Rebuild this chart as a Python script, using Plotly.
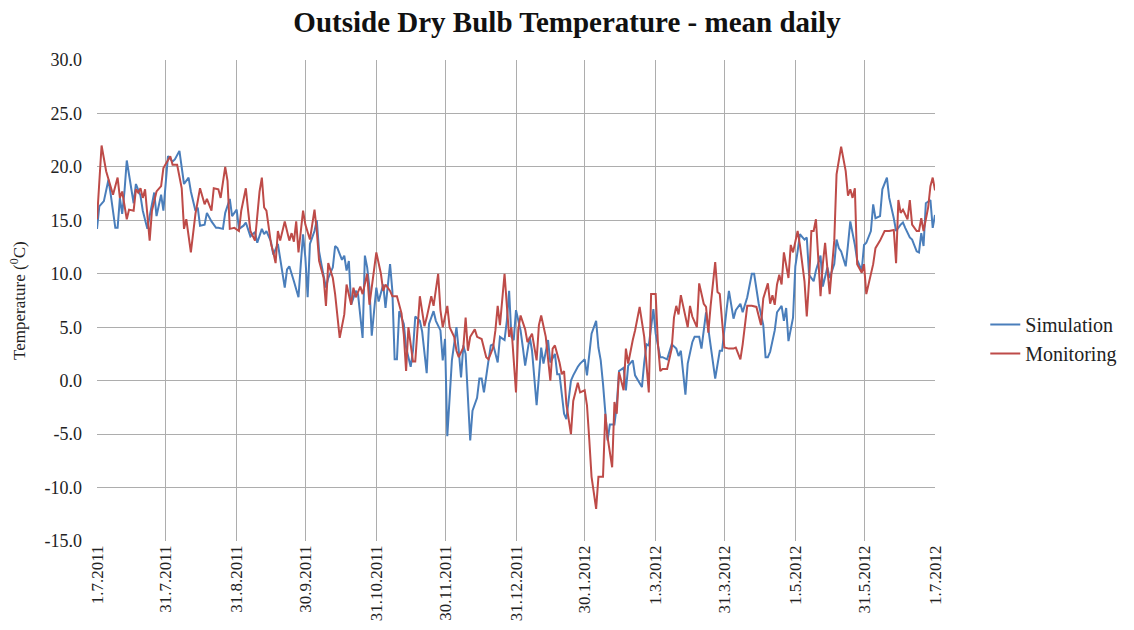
import plotly.graph_objects as go
import pandas as pd

### Data (day offsets from 1.7.2011, daily mean temperatures) ###
start = pd.Timestamp("2011-07-01")

sim_days = [0, 1, 3, 5, 6, 8, 9, 10, 11, 12, 13, 15, 16, 17, 19, 20, 22, 23, 25, 26, 28, 29, 31, 33, 34, 36, 38, 40, 41, 43,
            44, 45, 47, 48, 50, 52, 53, 55, 56, 58, 59, 61, 62, 64, 65, 67, 69, 70, 72, 73, 74, 76, 77, 79, 81, 82, 83, 84, 86, 88,
            89, 90, 91, 92, 93, 95, 96, 97, 98, 100, 101, 103, 104, 105, 107, 108, 109, 110, 111, 113, 114, 116, 117, 118, 119, 120, 122, 123, 125, 126,
            128, 129, 130, 131, 132, 134, 135, 137, 138, 139, 141, 142, 144, 145, 147, 148, 150, 151, 152, 153, 155, 157, 158, 159, 160, 161, 163, 164, 166, 167,
            168, 169, 171, 172, 173, 175, 176, 178, 179, 180, 181, 182, 183, 185, 186, 187, 189, 190, 192, 194, 195, 197, 198, 200, 201, 202, 204, 205, 207, 208,
            210, 211, 213, 214, 216, 218, 219, 220, 221, 222, 223, 224, 226, 227, 228, 230, 231, 232, 234, 235, 238, 239, 240, 241, 243, 244, 246, 247, 249, 251,
            253, 254, 255, 257, 258, 260, 261, 263, 264, 266, 267, 269, 270, 272, 273, 275, 276, 278, 279, 281, 282, 284, 286, 287, 289, 291, 292, 293, 294, 296,
            297, 299, 300, 301, 302, 304, 305, 306, 307, 309, 310, 311, 313, 314, 316, 317, 319, 320, 322, 323, 324, 325, 327, 328, 329, 331, 332, 334, 335, 336,
            338, 339, 340, 342, 343, 345, 346, 348, 349, 351, 352, 353, 355, 356, 358, 359, 360, 361, 362, 364, 365, 366]
sim_temp = [14.2, 16.3, 16.8, 18.8, 17.4, 14.3, 14.3, 17.1, 15.6, 17.7, 20.6, 17.7, 16.6, 18.4, 17.3, 15.9, 14.2, 15.4, 17.6, 15.4, 17.4, 15.9, 21.0, 20.5, 20.7, 21.5, 18.4, 19.0, 17.7, 15.9,
            16.2, 14.5, 14.6, 15.7, 14.9, 14.3, 14.3, 14.2, 15.7, 17.0, 15.4, 16.0, 14.2, 14.5, 14.8, 13.5, 13.9, 12.9, 14.2, 13.7, 14.0, 13.0, 11.8, 12.8, 10.1, 8.7, 10.4, 10.7, 9.3, 7.8,
            10.9, 13.7, 11.5, 7.8, 12.8, 14.0, 15.0, 12.1, 10.9, 8.7, 9.6, 10.6, 12.6, 12.4, 11.3, 11.7, 10.3, 11.2, 7.1, 8.4, 8.1, 4.0, 11.7, 10.6, 8.7, 4.2, 8.7, 7.4, 9.0, 6.8,
            10.9, 8.4, 2.0, 2.0, 6.5, 5.3, 3.1, 1.3, 2.8, 6.0, 5.6, 4.6, 0.7, 5.3, 6.5, 5.6, 4.7, 1.9, 3.9, -5.2, 1.9, 5.0, 2.8, 0.3, 3.3, 2.5, -5.6, -2.8, -1.6, 0.2,
            0.2, -1.1, 1.9, 3.3, 3.4, 1.7, 4.1, 3.8, 5.6, 8.4, 4.1, 3.8, 6.6, 4.7, 3.1, 1.4, 4.1, 2.8, -2.3, 3.1, 1.6, 3.8, 1.7, 2.5, 0.6, 0.6, -3.1, -3.6, 0.0, 0.5,
            1.3, 1.6, 2.0, 0.5, 4.4, 5.6, 3.1, 1.9, -0.3, -3.1, -5.6, -4.1, -4.1, -2.3, 0.9, 1.2, -0.9, 1.4, 1.9, 0.5, -0.6, 1.7, 3.4, 3.3, 6.7, 4.4, 2.2, 2.2, 2.0, 3.4,
            3.0, 2.3, 2.8, -1.3, 1.6, 3.6, 4.1, 4.1, 3.0, 6.4, 4.8, 1.9, 0.2, 2.8, 2.8, 6.7, 8.4, 5.8, 6.6, 7.2, 6.4, 7.8, 10.0, 10.0, 7.2, 5.2, 2.2, 2.2, 2.7, 4.7,
            6.4, 7.0, 5.6, 6.8, 3.7, 5.9, 10.7, 12.1, 13.7, 13.2, 13.4, 9.9, 9.3, 10.3, 11.7, 8.8, 10.6, 9.6, 10.9, 13.2, 12.4, 12.1, 10.7, 12.7, 14.9, 12.7, 11.3, 10.3, 12.7, 12.9,
            14.0, 16.5, 15.2, 15.4, 17.9, 19.0, 17.1, 15.2, 14.0, 14.6, 14.8, 14.3, 13.4, 13.2, 12.1, 12.0, 13.8, 12.6, 16.6, 16.9, 14.3, 15.5]

mon_days = [0, 2, 4, 6, 7, 9, 10, 11, 13, 14, 16, 17, 18, 19, 20, 21, 23, 24, 26, 28, 29, 32, 33, 35, 37, 38, 39, 41, 43, 45,
            47, 48, 50, 51, 53, 54, 56, 57, 58, 60, 62, 63, 65, 66, 67, 69, 71, 72, 73, 74, 76, 77, 78, 79, 80, 82, 84, 85, 86, 87,
            88, 90, 91, 93, 95, 96, 97, 99, 100, 101, 103, 104, 106, 108, 109, 111, 112, 113, 115, 116, 118, 119, 121, 122, 124, 125, 126, 128, 129, 131,
            133, 134, 135, 136, 138, 139, 141, 143, 144, 146, 147, 149, 150, 151, 153, 154, 156, 157, 158, 160, 161, 162, 163, 165, 166, 168, 170, 171, 173, 174,
            175, 176, 178, 179, 180, 181, 183, 184, 185, 187, 188, 190, 192, 193, 194, 196, 198, 199, 200, 202, 203, 204, 205, 207, 208, 210, 211, 213, 214, 215,
            216, 218, 219, 221, 222, 223, 225, 226, 227, 228, 230, 231, 232, 234, 235, 237, 239, 241, 242, 244, 245, 246, 247, 249, 251, 252, 253, 254, 255, 256,
            258, 259, 260, 262, 263, 265, 266, 267, 268, 270, 271, 272, 274, 276, 278, 279, 281, 282, 284, 286, 288, 290, 291, 293, 294, 295, 296, 297, 298, 299,
            300, 302, 303, 304, 305, 306, 307, 309, 310, 311, 312, 313, 314, 316, 317, 318, 320, 322, 323, 325, 327, 328, 329, 330, 331, 332, 334, 335, 336, 338,
            339, 340, 342, 344, 346, 348, 349, 350, 351, 352, 354, 355, 356, 358, 359, 360, 361, 363, 364, 365, 366]
mon_temp = [15.1, 22.0, 19.6, 18.2, 17.4, 19.0, 17.1, 17.7, 15.1, 16.0, 15.9, 17.9, 17.6, 18.0, 17.1, 17.9, 13.1, 15.9, 17.7, 18.2, 19.9, 21.0, 20.2, 20.2, 18.0, 14.2, 15.1, 12.0, 15.6, 18.0,
            16.5, 17.0, 15.9, 18.0, 17.9, 17.1, 20.0, 18.7, 14.2, 14.3, 14.0, 15.9, 18.0, 15.9, 14.0, 13.1, 17.7, 19.0, 16.2, 15.9, 12.8, 12.0, 11.0, 14.0, 13.1, 14.9, 13.1, 13.8, 13.0, 14.9,
            12.0, 15.9, 14.6, 13.2, 16.0, 14.0, 11.2, 9.6, 7.0, 11.0, 9.6, 8.1, 4.0, 6.2, 9.0, 7.1, 8.7, 7.8, 8.8, 8.1, 10.0, 7.1, 10.6, 12.0, 10.0, 8.4, 9.0, 8.4, 7.9, 7.9,
            6.3, 4.3, 0.9, 5.0, 1.8, 1.8, 7.9, 5.1, 5.9, 7.9, 7.0, 10.0, 6.6, 5.0, 7.0, 5.0, 4.1, 2.8, 2.2, 3.1, 5.9, 2.8, 4.1, 4.8, 4.1, 3.9, 2.2, 2.0, 3.1, 4.7,
            7.0, 5.2, 10.0, 7.2, 4.1, 5.0, -1.1, 4.8, 6.1, 4.8, 3.6, 4.4, 1.9, 5.2, 6.1, 4.1, 0.0, 3.0, 3.3, 1.7, 0.6, 0.9, -2.2, -5.0, -1.9, -0.2, -1.1, -0.9, -2.3, -5.5,
            -9.0, -12.0, -9.0, -9.0, -3.1, -5.3, -8.1, -2.0, -3.1, 0.8, -0.9, 3.0, 1.6, 3.8, 4.7, 6.9, 4.1, -1.1, 8.1, 8.1, 3.4, 0.9, 1.1, 1.1, 3.0, 5.9, 7.0, 6.2, 8.0, 7.0,
            5.0, 7.0, 6.0, 5.0, 9.1, 7.2, 6.9, 4.5, 7.0, 11.1, 8.3, 8.1, 3.1, 3.0, 3.0, 3.1, 2.0, 3.4, 7.0, 7.0, 6.9, 5.2, 7.7, 9.1, 7.2, 8.0, 7.1, 9.0, 9.9, 9.0,
            12.0, 9.6, 12.7, 12.0, 13.1, 14.0, 12.7, 9.3, 6.0, 9.3, 14.0, 14.0, 15.1, 7.9, 10.9, 12.9, 8.1, 13.1, 19.3, 21.9, 19.6, 17.3, 17.9, 17.1, 18.0, 10.9, 10.1, 10.9, 8.1, 9.9,
            10.9, 12.4, 13.1, 14.0, 14.0, 14.1, 11.0, 16.9, 15.7, 16.0, 15.1, 16.9, 14.6, 14.0, 14.0, 15.2, 14.0, 16.2, 18.2, 19.0, 17.8]

tick_dates = ["2011-07-01", "2011-07-31", "2011-08-31", "2011-09-30", "2011-10-31", "2011-11-30", "2011-12-31",
              "2012-01-30", "2012-03-01", "2012-03-31", "2012-05-01", "2012-05-31", "2012-07-01"]
tick_text = ["1.7.2011", "31.7.2011", "31.8.2011", "30.9.2011", "31.10.2011", "30.11.2011", "31.12.2011",
             "30.1.2012", "1.3.2012", "31.3.2012", "1.5.2012", "31.5.2012", "1.7.2012"]
y_ticks = [-15, -10, -5, 0, 5, 10, 15, 20, 25, 30]
y_text = ["-15.0", "-10.0", "-5.0", "0.0", "5.0", "10.0", "15.0", "20.0", "25.0", "30.0"]

sim_x = [start + pd.Timedelta(days=d) for d in sim_days]
mon_x = [start + pd.Timedelta(days=d) for d in mon_days]

### Plot ###
serif = "Liberation Serif, Times New Roman, serif"
fig = go.Figure()
fig.add_trace(go.Scatter(x=sim_x, y=sim_temp, name="Simulation", mode="lines",
                         line=dict(color="#4a7ebb", width=2)))
fig.add_trace(go.Scatter(x=mon_x, y=mon_temp, name="Monitoring", mode="lines",
                         line=dict(color="#be4b48", width=2)))

fig.update_xaxes(range=[pd.Timestamp("2011-07-01"), pd.Timestamp("2012-07-01")],
                 tickvals=tick_dates, ticktext=tick_text, tickangle=-90,
                 tickfont=dict(family=serif, size=17, color="#222"),
                 showgrid=True, gridcolor="#adadad", gridwidth=1,
                 showline=False, ticks="", automargin=False)
fig.update_yaxes(range=[-15, 30], tickvals=y_ticks, ticktext=y_text,
                 tickfont=dict(family=serif, size=18, color="#222"),
                 showgrid=True, gridcolor="#adadad", gridwidth=1,
                 zeroline=False, showline=False, ticks="", automargin=False,
                 ticklabelstandoff=14)

# y-axis title placed as a rotated annotation
fig.add_annotation(text="Temperature (<sup>0</sup>C)", textangle=-90,
                   xref="paper", yref="paper", x=-0.095, y=0.5,
                   xanchor="center", yanchor="middle", showarrow=False,
                   font=dict(family=serif, size=17, color="#222"))

fig.update_layout(
    width=1134, height=630,
    title=dict(text="<b>Outside Dry Bulb Temperature - mean daily</b>",
               x=0.5, xanchor="center", y=0.965, yanchor="middle",
               font=dict(family=serif, size=29, color="#111")),
    font=dict(family=serif),
    plot_bgcolor="white", paper_bgcolor="white",
    margin=dict(l=97, r=194, t=60, b=89),
    legend=dict(x=1.06, y=0.42, xanchor="left", yanchor="middle",
                font=dict(family=serif, size=20, color="#222"),
                itemwidth=30),
    showlegend=True,
)

fig.write_html("out.html", config={"displayModeBar": False},
               post_script="document.body.style.margin='0';")
